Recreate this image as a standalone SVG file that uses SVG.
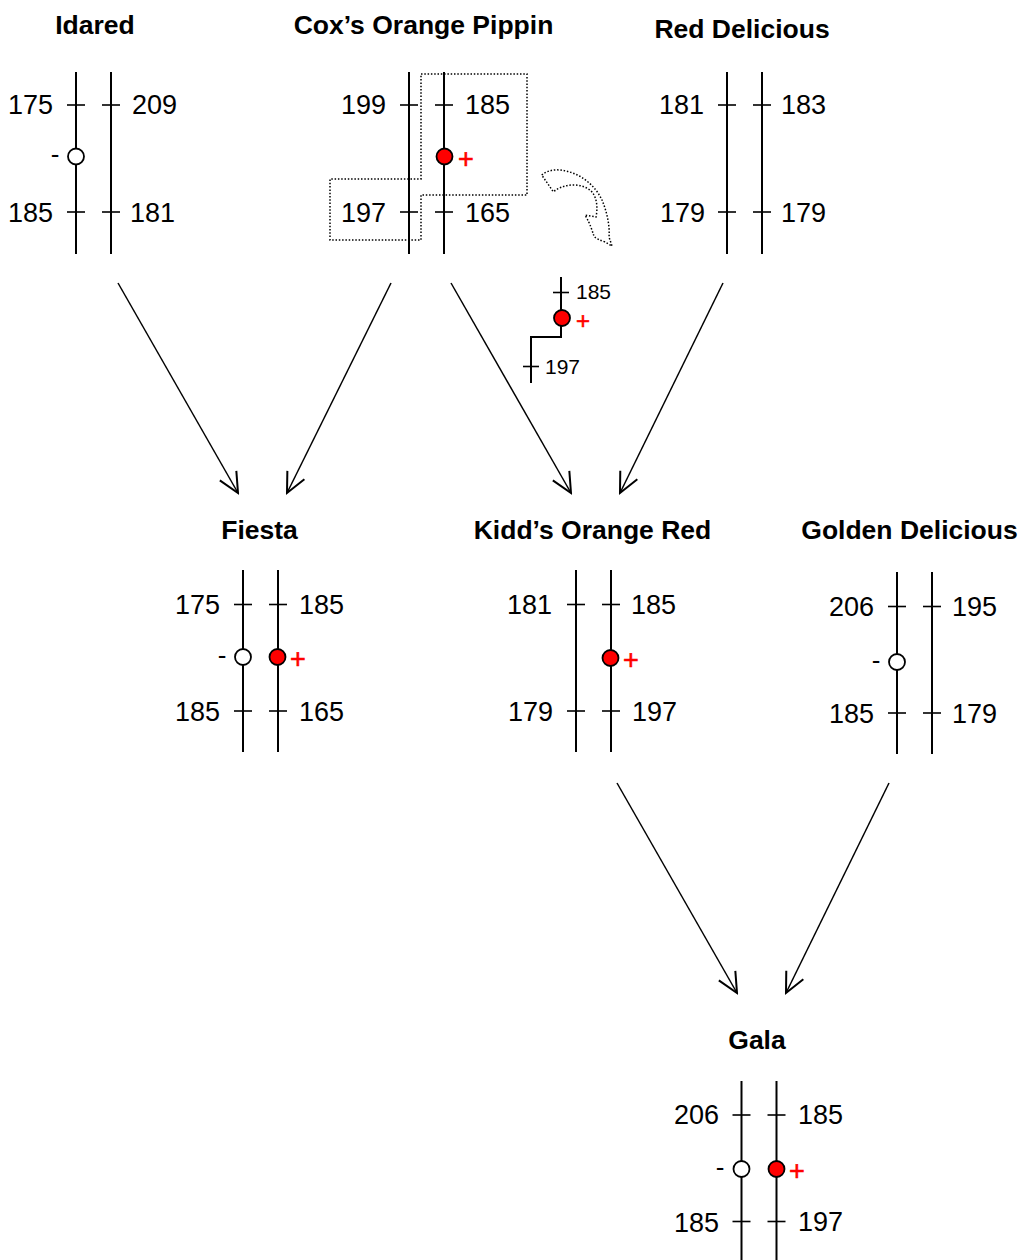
<svg xmlns="http://www.w3.org/2000/svg" width="1022" height="1260" viewBox="0 0 1022 1260">
<defs>
<style>
.chr{stroke:#000;stroke-width:2;fill:none}
.tick{stroke:#000;stroke-width:1.6}
.num{font-family:"Liberation Sans",Arial,sans-serif;font-size:27px;fill:#000}
.sm{font-family:"Liberation Sans",Arial,sans-serif;font-size:21px;fill:#000}
.title{font-family:"Liberation Sans",Arial,sans-serif;font-size:26.5px;font-weight:bold;fill:#000;text-anchor:middle}
.l{text-anchor:end}
.minus{font-family:"Liberation Sans",Arial,sans-serif;font-size:26px;fill:#000;text-anchor:middle}
.plus{font-family:"Liberation Sans",Arial,sans-serif;font-size:27px;fill:#ff0000;text-anchor:middle;stroke:#ff0000;stroke-width:0.6}
.open{fill:#fff;stroke:#000;stroke-width:1.8}
.red{fill:#ff0000;stroke:#000;stroke-width:1.8}
.arrow{stroke:#000;stroke-width:1.5;fill:none;marker-end:url(#ah)}
.dot{fill:none;stroke:#000;stroke-width:1.5;stroke-dasharray:1.5,1.8}
</style>
<marker id="ah" markerUnits="userSpaceOnUse" markerWidth="24" markerHeight="22" viewBox="0 0 24 22" refX="22" refY="11" orient="auto">
<path d="M2,1.5 L22,11 L2,20.5" fill="none" stroke="#000" stroke-width="2"/>
</marker>
</defs>
<rect width="1022" height="1260" fill="#fff"/>

<g id="connectors">
<line class="arrow" x1="118" y1="283" x2="238" y2="493"/>
<line class="arrow" x1="391" y1="283" x2="287" y2="493"/>
<line class="arrow" x1="451" y1="283" x2="571" y2="493"/>
<line class="arrow" x1="723" y1="283" x2="620" y2="493"/>
<line class="arrow" x1="617" y1="783" x2="737" y2="993"/>
<line class="arrow" x1="889" y1="783" x2="786" y2="993"/>
</g>

<g id="idared">
<text class="title" x="95" y="34">Idared</text>
<line class="chr" x1="76" y1="72" x2="76" y2="254"/>
<line class="chr" x1="111" y1="72" x2="111" y2="254"/>
<line class="tick" x1="67" y1="105" x2="85" y2="105"/>
<line class="tick" x1="102" y1="105" x2="120" y2="105"/>
<line class="tick" x1="67" y1="212" x2="85" y2="212"/>
<line class="tick" x1="102" y1="212" x2="120" y2="212"/>
<text class="num l" x="53" y="114">175</text>
<text class="num" x="132" y="114">209</text>
<text class="num l" x="53" y="222">185</text>
<text class="num" x="130" y="222">181</text>
<circle class="open" cx="76" cy="156.5" r="8"/>
<text class="minus" x="55" y="163">-</text>
</g>

<g id="cox">
<text class="title" x="423.5" y="34">Cox’s Orange Pippin</text>
<polygon class="dot" points="421,74 527,74 527,195 421,195 421,240 330,240 330,179 421,179"/>
<line class="chr" x1="409" y1="72" x2="409" y2="254"/>
<line class="chr" x1="444" y1="72" x2="444" y2="254"/>
<line class="tick" x1="400" y1="105" x2="418" y2="105"/>
<line class="tick" x1="435" y1="105" x2="453" y2="105"/>
<line class="tick" x1="400" y1="212" x2="418" y2="212"/>
<line class="tick" x1="435" y1="212" x2="453" y2="212"/>
<text class="num l" x="386" y="114">199</text>
<text class="num" x="465" y="114">185</text>
<text class="num l" x="386" y="222">197</text>
<text class="num" x="465" y="222">165</text>
<circle class="red" cx="444.5" cy="156.5" r="8"/>
<text class="plus" x="466" y="168">+</text>
<path class="dot" d="M541.7,175 C548,170 556,169 563,170.5 C580,173 595,185 602,200 C607,212 610,226 609,237 L612,246 L605,242 C600,240 596,239 594,236 C592,231 591,225 585,215 L596,217 C598,207 597,196 590,190 C580,183 565,183 553.3,191.7 Z"/>
</g>

<g id="recombinant">
<polyline class="chr" points="561,277 561,337 531,337 531,383"/>
<line class="tick" x1="553" y1="292.5" x2="569" y2="292.5"/>
<line class="tick" x1="523" y1="366.5" x2="539" y2="366.5"/>
<circle class="red" cx="562" cy="318" r="8"/>
<text class="plus" x="583" y="329" style="font-size:24px">+</text>
<text class="sm" x="576" y="299">185</text>
<text class="sm" x="545" y="374">197</text>
</g>

<g id="red-delicious">
<text class="title" x="742" y="38">Red Delicious</text>
<line class="chr" x1="727" y1="72" x2="727" y2="254"/>
<line class="chr" x1="762" y1="72" x2="762" y2="254"/>
<line class="tick" x1="718" y1="105" x2="736" y2="105"/>
<line class="tick" x1="753" y1="105" x2="771" y2="105"/>
<line class="tick" x1="718" y1="212" x2="736" y2="212"/>
<line class="tick" x1="753" y1="212" x2="771" y2="212"/>
<text class="num l" x="704" y="114">181</text>
<text class="num" x="781" y="114">183</text>
<text class="num l" x="705" y="222">179</text>
<text class="num" x="781" y="222">179</text>
</g>

<g id="fiesta">
<text class="title" x="259.5" y="539">Fiesta</text>
<line class="chr" x1="243" y1="570" x2="243" y2="752"/>
<line class="chr" x1="278" y1="570" x2="278" y2="752"/>
<line class="tick" x1="234" y1="604.5" x2="252" y2="604.5"/>
<line class="tick" x1="269" y1="604.5" x2="287" y2="604.5"/>
<line class="tick" x1="234" y1="711" x2="252" y2="711"/>
<line class="tick" x1="269" y1="711" x2="287" y2="711"/>
<text class="num l" x="220" y="614">175</text>
<text class="num" x="299" y="614">185</text>
<text class="num l" x="220" y="721">185</text>
<text class="num" x="299" y="721">165</text>
<circle class="open" cx="243" cy="657" r="8"/>
<text class="minus" x="222" y="664">-</text>
<circle class="red" cx="277.5" cy="657" r="8"/>
<text class="plus" x="298" y="668">+</text>
</g>

<g id="kidds-orange-red">
<text class="title" x="592.5" y="539">Kidd’s Orange Red</text>
<line class="chr" x1="576" y1="570" x2="576" y2="752"/>
<line class="chr" x1="611" y1="570" x2="611" y2="752"/>
<line class="tick" x1="567" y1="604.5" x2="585" y2="604.5"/>
<line class="tick" x1="602" y1="604.5" x2="620" y2="604.5"/>
<line class="tick" x1="567" y1="711" x2="585" y2="711"/>
<line class="tick" x1="602" y1="711" x2="620" y2="711"/>
<text class="num l" x="552" y="614">181</text>
<text class="num" x="631" y="614">185</text>
<text class="num l" x="553" y="721">179</text>
<text class="num" x="632" y="721">197</text>
<circle class="red" cx="610.5" cy="658" r="8"/>
<text class="plus" x="631" y="669">+</text>
</g>

<g id="golden-delicious">
<text class="title" x="909.5" y="539">Golden Delicious</text>
<line class="chr" x1="897" y1="572" x2="897" y2="754"/>
<line class="chr" x1="932" y1="572" x2="932" y2="754"/>
<line class="tick" x1="888" y1="606.5" x2="906" y2="606.5"/>
<line class="tick" x1="923" y1="606.5" x2="941" y2="606.5"/>
<line class="tick" x1="888" y1="713" x2="906" y2="713"/>
<line class="tick" x1="923" y1="713" x2="941" y2="713"/>
<text class="num l" x="874" y="616">206</text>
<text class="num" x="952" y="616">195</text>
<text class="num l" x="874" y="723">185</text>
<text class="num" x="952" y="723">179</text>
<circle class="open" cx="897" cy="662" r="8"/>
<text class="minus" x="876" y="669">-</text>
</g>

<g id="gala">
<text class="title" x="757" y="1049">Gala</text>
<line class="chr" x1="741.5" y1="1081" x2="741.5" y2="1260"/>
<line class="chr" x1="776.5" y1="1081" x2="776.5" y2="1260"/>
<line class="tick" x1="732.5" y1="1115" x2="750.5" y2="1115"/>
<line class="tick" x1="767.5" y1="1115" x2="785.5" y2="1115"/>
<line class="tick" x1="732.5" y1="1221.5" x2="750.5" y2="1221.5"/>
<line class="tick" x1="767.5" y1="1221.5" x2="785.5" y2="1221.5"/>
<text class="num l" x="719" y="1124">206</text>
<text class="num" x="798" y="1124">185</text>
<text class="num l" x="719" y="1232">185</text>
<text class="num" x="798" y="1231">197</text>
<circle class="open" cx="741.5" cy="1169" r="8"/>
<text class="minus" x="720" y="1176">-</text>
<circle class="red" cx="776.5" cy="1169" r="8"/>
<text class="plus" x="797" y="1180">+</text>
</g>
</svg>
